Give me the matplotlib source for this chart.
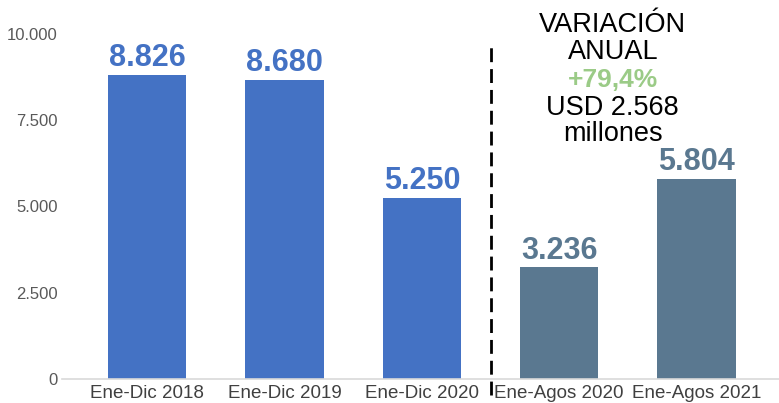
import numpy as np
import matplotlib.pyplot as plt

plt.rcParams['font.family'] = ['Liberation Sans', 'DejaVu Sans']

# datos (millones USD)
categorias = ["Ene-Dic 2018", "Ene-Dic 2019", "Ene-Dic 2020", "Ene-Agos 2020", "Ene-Agos 2021"]
valores = [8826, 8680, 5250, 3236, 5804]
etiquetas = ["8.826", "8.680", "5.250", "3.236", "5.804"]
colores = ["#4472C4", "#4472C4", "#4472C4", "#5A7890", "#5A7890"]
y_ticks = [0, 2500, 5000, 7500, 10000]
y_tick_labels = ["0", "2.500", "5.000", "7.500", "10.000"]

W, H = 779, 403
fig = plt.figure(figsize=(W / 100, H / 100), dpi=100)
ax = fig.add_axes([62 / W, 24 / H, 1 - 62 / W, 345 / H])

x = np.arange(len(categorias))
bars = ax.bar(x, valores, width=0.57, color=colores, zorder=2)

for b, lab, c in zip(bars, etiquetas, colores):
    ax.annotate(lab, (b.get_x() + b.get_width() / 2, b.get_height()),
                xytext=(0, 1), textcoords="offset points", ha="center", va="bottom",
                fontsize=22, fontweight="bold", color=c, clip_on=False)

ax.set_xlim(-0.62, 4.6)
ax.set_ylim(0, 10000)
ax.set_yticks(y_ticks)
ax.set_yticklabels(y_tick_labels, fontsize=12, color="#595959")
ax.set_xticks(x)
ax.set_xticklabels(categorias, fontsize=13.5, color="#404040")
ax.tick_params(axis="both", length=0)
ax.tick_params(axis="y", pad=3)
ax.tick_params(axis="x", pad=4)

for s in ["top", "right", "left"]:
    ax.spines[s].set_visible(False)
ax.spines["bottom"].set_color("#D9D9D9")
ax.spines["bottom"].set_linewidth(1.2)

# linea divisoria
ax.plot([2.5, 2.5], [-460, 9770], color="black", linewidth=2,
        linestyle=(0, (5, 2.5)), clip_on=False, zorder=3)

# texto variación anual
tx = 3.39
ax.text(tx, 10261, "VARIACIÓN", ha="center", va="center", fontsize=19.5, color="black")
ax.text(tx, 9478, "ANUAL", ha="center", va="center", fontsize=19.5, color="black")
ax.text(tx, 8667, "+79,4%", ha="center", va="center", fontsize=19, fontweight="bold", color="#9BCB87")
ax.text(tx, 7855, "USD 2.568", ha="center", va="center", fontsize=19.5, color="black")
ax.text(tx, 7101, "millones", ha="center", va="center", fontsize=19.5, color="black")

fig.savefig("out.png", dpi=100)
